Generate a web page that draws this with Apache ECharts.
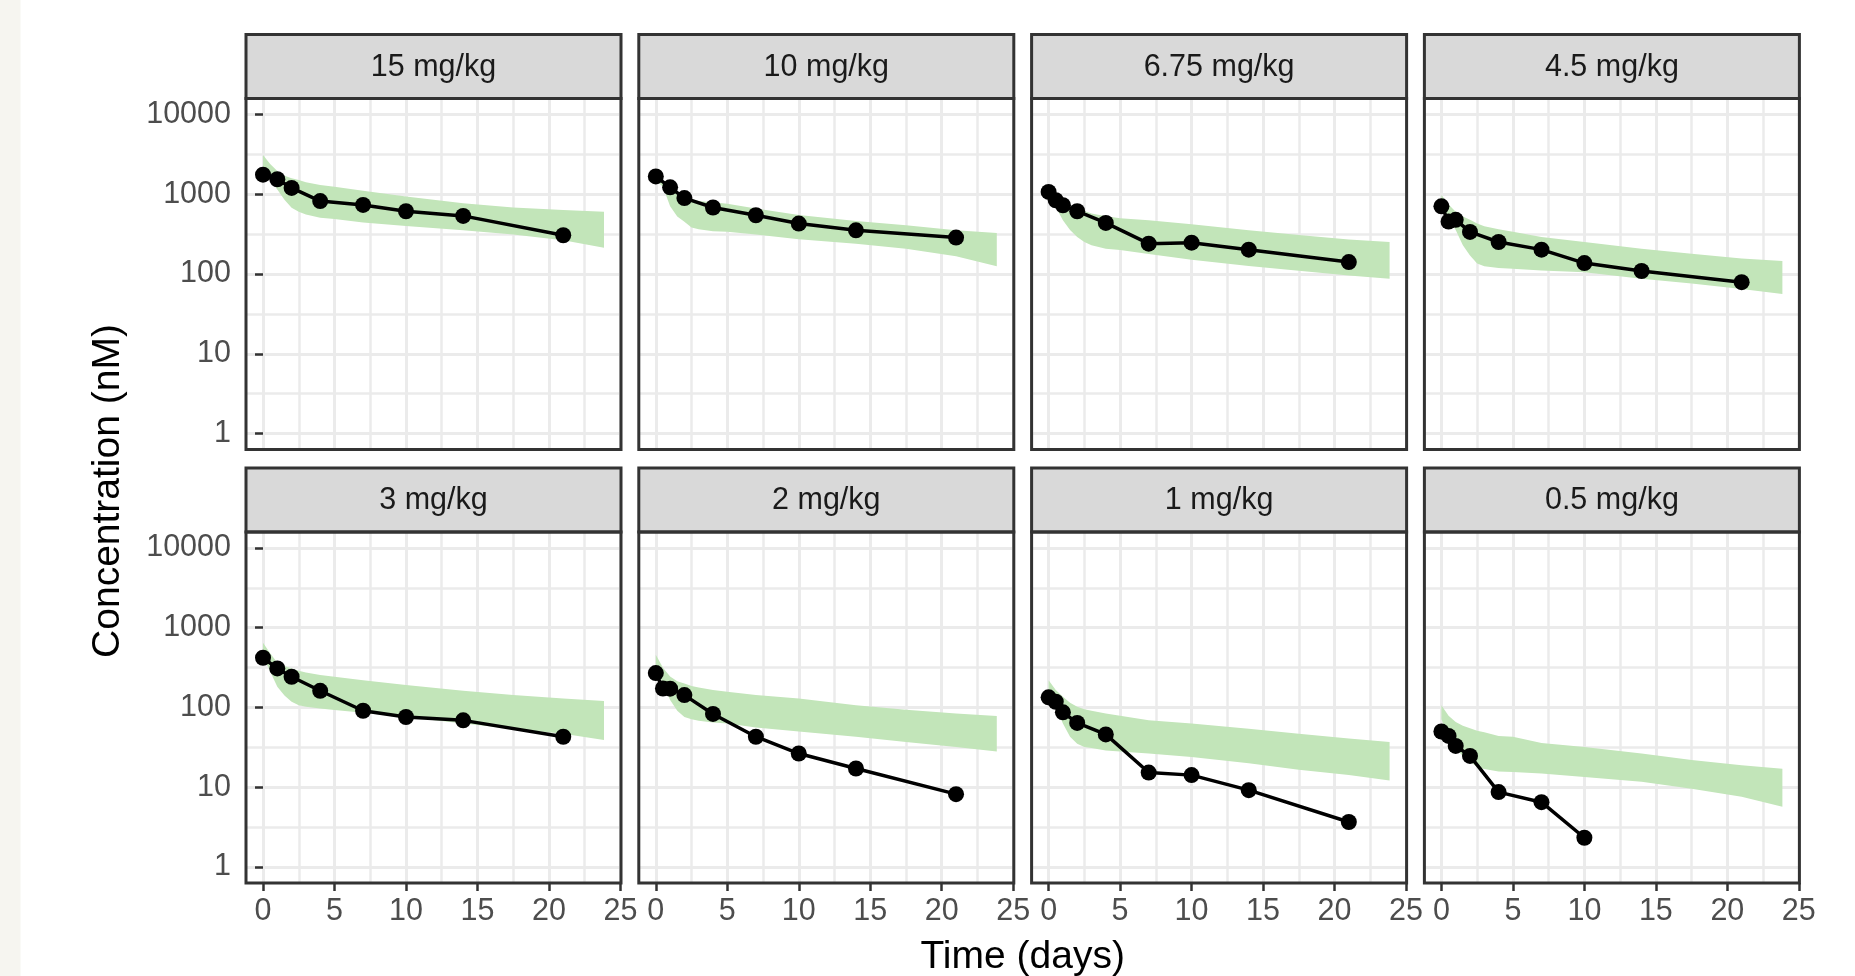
<!DOCTYPE html>
<html>
<head>
<meta charset="utf-8">
<script src="https://cdn.jsdelivr.net/npm/echarts@6/dist/echarts.min.js"></script>
<style>
  html, body { margin: 0; padding: 0; background: #fff; }
  #chart { width: 1855px; height: 976px; }
</style>
</head>
<body>
<div id="chart"></div>
<script>
// panel titles
var doseLabels = ['15 mg/kg', '10 mg/kg', '6.75 mg/kg', '4.5 mg/kg', '3 mg/kg', '2 mg/kg', '1 mg/kg', '0.5 mg/kg'];

// sampling days of the observed data
var days8 = [0, 1, 2, 4, 7, 10, 14, 21];
var days9 = [0, 0.5, 1, 2, 4, 7, 10, 14, 21];
var days7 = [0, 0.5, 1, 2, 4, 7, 10];

// observed concentration (nM)
var obs15 = [1760, 1540, 1200, 820, 735, 612, 535, 306];
var obs10 = [1670, 1220, 895, 682, 545, 429, 353, 286];
var obs675 = [1069, 841, 727, 612, 437, 240, 247, 202, 141];
var obs45 = [705, 455, 478, 337, 252, 202, 137, 109, 79];
var obs3 = [420, 309, 243, 162, 91, 76, 69, 43];
var obs2 = [270, 173, 172, 143, 83, 43, 26.5, 17.2, 8.2];
var obs1 = [134, 118, 87, 64, 46, 15.3, 14.2, 9.2, 3.67];
var obs05 = [50, 44, 33, 24.7, 8.7, 6.5, 2.33];

// predicted interval (green band)
var bandDays = [0, 0.5, 1, 1.5, 2, 2.5, 3, 4, 5, 7, 10, 14, 17.5, 21, 23.85];
var hi15 = [3105, 2400, 1950, 1700, 1585, 1507, 1413, 1309, 1242, 1109, 935, 771, 681, 635, 605];
var lo15 = [2000, 1507, 1148, 851, 676, 603, 556, 507, 490, 441, 401, 353, 312, 265, 214];
var hi10 = [1905, 1479, 1202, 1047, 933, 871, 822, 794, 759, 661, 550, 462, 408, 353, 327];
var lo10 = [1500, 1245, 708, 525, 452, 384, 363, 343, 338, 313, 272, 240, 208, 167, 125];
var hi675 = [1230, 955, 776, 708, 661, 617, 575, 531, 501, 472, 420, 353, 309, 270, 251];
var lo675 = [950, 692, 472, 355, 291, 251, 229, 208, 200, 178, 151, 126, 110, 96, 87];
var hi45 = [977, 741, 603, 525, 479, 431, 398, 363, 338, 291, 252, 208, 180, 156, 146];
var lo45 = [740, 501, 355, 229, 170, 135, 125, 119, 116, 111, 105, 87, 76, 65, 56];
var hi3 = [649, 479, 363, 331, 309, 288, 275, 255, 243, 220, 191, 162, 143, 130, 121];
var lo3 = [437, 282, 182, 141, 118, 107, 102, 97, 93, 86, 76, 63, 54, 47, 39];
var hi2 = [457, 316, 245, 214, 200, 186, 178, 166, 158, 143, 130, 107, 94, 84, 78];
var lo2 = [316, 200, 124, 91, 76, 71, 68, 65, 63, 56, 50, 43, 37, 32, 28];
var hi1 = [220, 166, 136, 115, 102, 95, 91, 84, 79, 69, 63, 54, 47, 41, 37];
var lo1 = [150, 102, 63, 43, 35, 32, 31, 29, 28, 26.5, 24, 20, 16.6, 14.2, 12.2];
var hi05 = [107, 79, 66, 59, 55, 51, 49, 44, 43, 36, 32, 26.5, 22, 18.9, 17.1];
var lo05 = [71, 43, 31, 24.5, 21, 18, 17, 15.8, 15.5, 14.9, 13.5, 11.7, 9.6, 7.6, 5.7];

// axis breaks
var xTicks = [0, 5, 10, 15, 20, 25];
var xMinor = [2.5, 7.5, 12.5, 17.5, 22.5];
var yTicks = [1, 10, 100, 1000, 10000];
var yMinor = [3.1623, 31.623, 316.23, 3162.3];

var obsDays = [days8, days8, days9, days9, days8, days9, days9, days7];
var obsVals = [obs15, obs10, obs675, obs45, obs3, obs2, obs1, obs05];
var bandHi = [hi15, hi10, hi675, hi45, hi3, hi2, hi1, hi05];
var bandLo = [lo15, lo10, lo675, lo45, lo3, lo2, lo1, lo05];

function drawChart() {
  var FONT = '"Liberation Sans", Arial, Helvetica, sans-serif';
  var colLeft = [246, 638.8, 1031.6, 1424.4];
  var rowTop = [98.5, 532];
  var panelW = 375, panelH = 351, stripH = 64;
  var gridColor = '#EBEBEB';
  var bandColor = '#C2E5B9';
  var yMin = Math.pow(10, -0.2), yMax = Math.pow(10, 4.2);
  var labelFmt = function (v) { return String(Math.round(v)); };

  var grids = [], xAxes = [], yAxes = [], series = [], graphics = [];

  // off-white strip at the left edge
  graphics.push({ type: 'rect', shape: { x: 0, y: 0, width: 20.5, height: 976 }, style: { fill: '#F6F5F0' } });

  for (var i = 0; i < 8; i++) {
    var col = i % 4, row = Math.floor(i / 4);
    var pLeft = colLeft[col], pTop = rowTop[row];
    grids.push({ left: pLeft, top: pTop, width: panelW, height: panelH, show: true, backgroundColor: '#fff', borderWidth: 0 });

    xAxes.push({
      gridIndex: i, type: 'value', min: -1.19, max: 25.04,
      axisLine: { show: false },
      axisTick: { show: row === 1, length: 8, customValues: xTicks, lineStyle: { color: '#333333', width: 2.5 } },
      axisLabel: { show: row === 1, customValues: xTicks, margin: 13, color: '#4D4D4D', fontSize: 30.5, fontFamily: FONT, formatter: labelFmt },
      splitLine: { show: true, lineStyle: { color: gridColor, width: 3 } }
    });
    xAxes.push({
      gridIndex: i, type: 'value', min: -1.19, max: 25.04,
      axisLine: { show: false }, axisLabel: { show: false },
      axisTick: { show: false, customValues: xMinor },
      splitLine: { show: true, lineStyle: { color: gridColor, width: 2.5 } }
    });
    yAxes.push({
      gridIndex: i, type: 'log', logBase: 10, min: yMin, max: yMax,
      axisLine: { show: false },
      axisTick: { show: col === 0, length: 8, customValues: yTicks, lineStyle: { color: '#333333', width: 2.5 } },
      axisLabel: { show: col === 0, customValues: yTicks, margin: 15, color: '#4D4D4D', fontSize: 30.5, fontFamily: FONT, formatter: labelFmt },
      splitLine: { show: true, lineStyle: { color: gridColor, width: 3 } }
    });
    yAxes.push({
      gridIndex: i, type: 'log', logBase: 10, min: yMin, max: yMax,
      axisLine: { show: false }, axisLabel: { show: false },
      axisTick: { show: false, customValues: yMinor },
      splitLine: { show: true, lineStyle: { color: gridColor, width: 2.5 } }
    });

    series.push(makeBand(i, bandHi[i], bandLo[i], bandColor));

    var days = obsDays[i], vals = obsVals[i];
    series.push({
      type: 'line', xAxisIndex: 2 * i, yAxisIndex: 2 * i, silent: true, z: 3,
      data: days.map(function (d, k) { return [d, vals[k]]; }),
      symbol: 'circle', symbolSize: 16, showSymbol: true,
      lineStyle: { color: '#000', width: 3.5 },
      itemStyle: { color: '#000' }
    });

    // facet strip and panel border
    graphics.push({ type: 'rect', z: 100, shape: { x: pLeft, y: pTop - stripH, width: panelW, height: stripH },
      style: { fill: '#D9D9D9', stroke: '#333333', lineWidth: 3 } });
    graphics.push({ type: 'text', z: 101, x: pLeft + panelW / 2, y: pTop - stripH / 2 + 1,
      style: { text: doseLabels[i], align: 'center', verticalAlign: 'middle', font: '30.5px ' + FONT, fill: '#1A1A1A' } });
    graphics.push({ type: 'rect', z: 100, shape: { x: pLeft, y: pTop, width: panelW, height: panelH },
      style: { fill: null, stroke: '#333333', lineWidth: 3 } });
  }

  graphics.push({ type: 'text', z: 101, x: 1022.7, y: 957,
    style: { text: 'Time (days)', align: 'center', verticalAlign: 'middle', font: '39px ' + FONT, fill: '#000' } });
  graphics.push({ type: 'text', z: 101, x: 108, y: 491, rotation: Math.PI / 2,
    style: { text: 'Concentration (nM)', align: 'center', verticalAlign: 'middle', font: '39px ' + FONT, fill: '#000' } });

  var chart = echarts.init(document.getElementById('chart'));
  chart.setOption({
    animation: false,
    backgroundColor: '#fff',
    grid: grids,
    xAxis: xAxes,
    yAxis: yAxes,
    series: series,
    graphic: graphics
  });
}

// ribbon drawn as one polygon: upper edge forward, lower edge back
function makeBand(i, hi, lo, color) {
  return {
    type: 'custom', xAxisIndex: 2 * i, yAxisIndex: 2 * i, silent: true, z: 2,
    data: bandDays.map(function (d, k) { return [d, lo[k], hi[k]]; }),
    encode: { x: 0, y: [1, 2] },
    renderItem: function (params, api) {
      if (params.dataIndex !== 0) return null;
      var pts = [];
      for (var k = 0; k < bandDays.length; k++) pts.push(api.coord([bandDays[k], hi[k]]));
      for (var j = bandDays.length - 1; j >= 0; j--) pts.push(api.coord([bandDays[j], lo[j]]));
      return { type: 'polygon', shape: { points: pts }, style: { fill: color } };
    }
  };
}

drawChart();
</script>
</body>
</html>
